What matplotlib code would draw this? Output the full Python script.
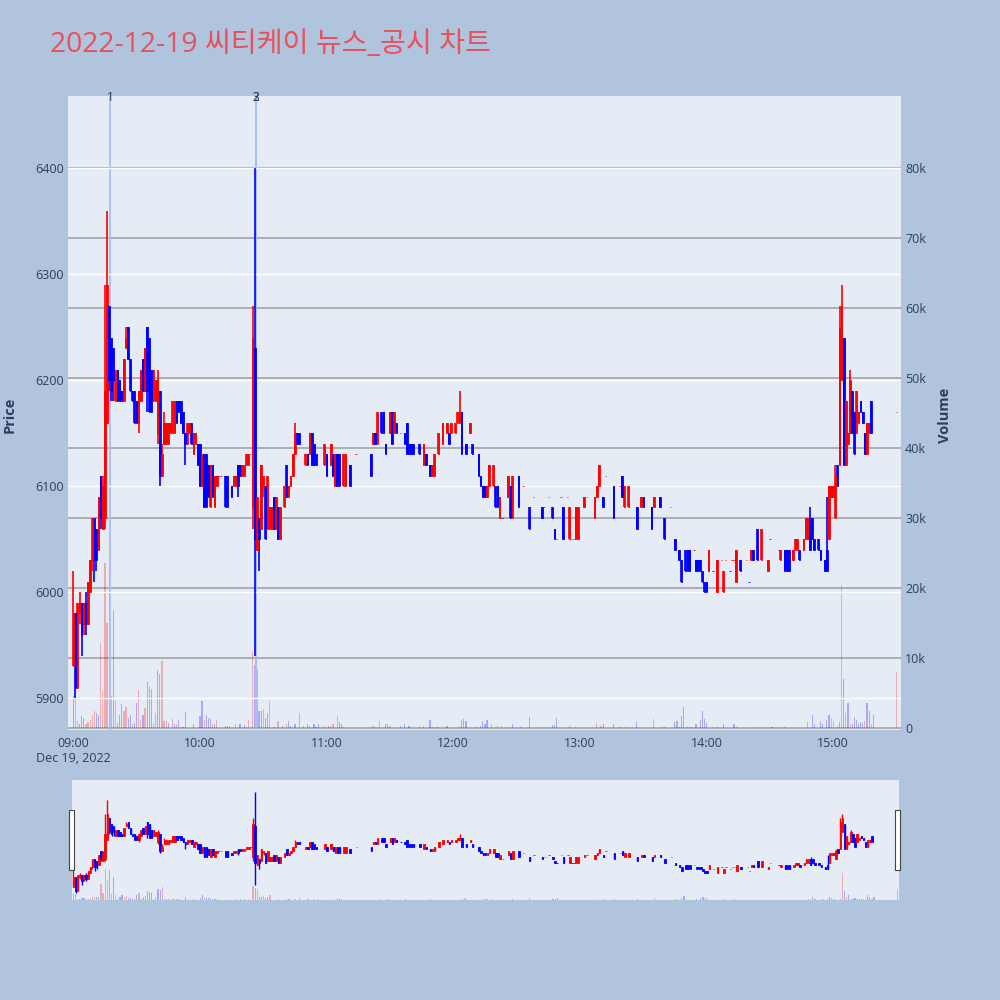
import numpy as np
import matplotlib
matplotlib.use("Agg")
import matplotlib.pyplot as plt
from matplotlib.patches import Rectangle
import matplotlib.transforms as mtransforms

plt.rcParams['font.family'] = ['Open Sans', 'Noto Sans CJK KR', 'DejaVu Sans']

title = "2022-12-19 씨티케이 뉴스_공시 차트"

# 1-minute candles, minutes after 09:00
minutes = [
    0, 1, 2, 3, 4, 5, 6, 7, 8, 9, 10, 11, 12, 13, 14, 15, 16, 17, 18, 19,
    20, 21, 22, 23, 24, 25, 26, 27, 28, 29, 30, 31, 32, 33, 34, 35, 36, 37, 38, 39,
    40, 41, 42, 43, 44, 45, 46, 47, 48, 49, 50, 51, 52, 53, 54, 55, 56, 57, 58, 59,
    60, 61, 62, 63, 64, 65, 66, 67, 68, 69, 70, 72, 73, 75, 76, 77, 78, 79, 80, 81,
    82, 83, 84, 85, 86, 87, 88, 89, 90, 91, 92, 93, 94, 95, 96, 97, 98, 100, 101, 102,
    103, 104, 105, 106, 107, 110, 111, 112, 113, 114, 115, 119, 120, 122, 123, 124, 125, 126, 128, 129,
    131, 134, 141, 142, 143, 144, 146, 147, 148, 150, 151, 152, 153, 155, 157, 158, 159, 160, 161, 164,
    166, 167, 169, 170, 171, 173, 175, 177, 178, 179, 181, 182, 183, 184, 186, 188, 189, 192, 193, 194,
    195, 196, 197, 199, 200, 201, 202, 203, 206, 207, 208, 211, 213, 216, 218, 222, 223, 225, 227, 228,
    229, 231, 232, 234, 235, 236, 237, 238, 239, 242, 243, 247, 248, 249, 251, 252, 256, 259, 260, 261,
    263, 267, 269, 270, 274, 275, 278, 280, 283, 285, 287, 288, 290, 291, 292, 294, 295, 296, 297, 298,
    299, 300, 301, 303, 305, 307, 308, 309, 311, 312, 313, 314, 316, 319, 320, 321, 322, 324, 326, 329,
    330, 334, 335, 337, 338, 339, 341, 342, 343, 344, 346, 347, 348, 349, 350, 351, 353, 354, 356, 357,
    358, 359, 360, 361, 362, 363, 364, 365, 366, 367, 368, 369, 370, 371, 372, 373, 374, 375, 376, 377,
    378, 390,
]
opens = [
    5930, 5980, 5910, 5980, 5990, 5970, 5990, 5970, 6000, 6030, 6070, 6060, 6040, 6110, 6060, 6070, 6160, 6270, 6240, 6230,
    6180, 6210, 6200, 6190, 6180, 6230, 6250, 6220, 6190, 6190, 6180, 6160, 6180, 6220, 6190, 6250, 6240, 6210, 6180, 6180,
    6150, 6190, 6110, 6140, 6140, 6140, 6150, 6150, 6150, 6180, 6180, 6180, 6170, 6150, 6140, 6150, 6160, 6130, 6140, 6140,
    6140, 6100, 6130, 6130, 6120, 6080, 6120, 6080, 6100, 6110, 6110, 6110, 6110, 6100, 6100, 6100, 6120, 6120, 6110, 6110,
    6120, 6120, 6130, 6080, 6230, 6040, 6070, 6060, 6100, 6100, 6060, 6060, 6060, 6090, 6060, 6080, 6050, 6080, 6120, 6090,
    6100, 6110, 6130, 6150, 6150, 6120, 6130, 6130, 6150, 6140, 6130, 6120, 6130, 6120, 6130, 6100, 6130, 6130, 6100, 6100,
    6120, 6130, 6130, 6140, 6150, 6140, 6170, 6170, 6140, 6150, 6170, 6150, 6160, 6150, 6150, 6160, 6140, 6140, 6140, 6140,
    6120, 6130, 6120, 6110, 6110, 6130, 6140, 6150, 6150, 6150, 6150, 6160, 6160, 6170, 6140, 6150, 6140, 6130, 6110, 6100,
    6100, 6090, 6100, 6100, 6100, 6100, 6070, 6070, 6090, 6100, 6070, 6110, 6100, 6080, 6090, 6080, 6080, 6090, 6080, 6060,
    6050, 6090, 6080, 6090, 6050, 6050, 6050, 6050, 6050, 6080, 6090, 6070, 6090, 6100, 6090, 6110, 6100, 6100, 6110, 6080,
    6080, 6080, 6080, 6090, 6080, 6080, 6090, 6070, 6080, 6050, 6040, 6030, 6040, 6040, 6040, 6040, 6030, 6030, 6030, 6020,
    6010, 6010, 6020, 6020, 6000, 6030, 6000, 6030, 6020, 6030, 6030, 6010, 6030, 6030, 6010, 6030, 6040, 6060, 6030, 6020,
    6050, 6040, 6030, 6040, 6040, 6040, 6030, 6040, 6040, 6040, 6040, 6050, 6050, 6070, 6070, 6050, 6050, 6040, 6030, 6040,
    6050, 6090, 6090, 6070, 6120, 6120, 6200, 6240, 6120, 6140, 6150, 6190, 6170, 6150, 6160, 6180, 6170, 6150, 6130, 6150,
    6180, 6170,
]
highs = [
    6020, 5980, 5990, 6000, 5990, 5990, 6000, 6010, 6030, 6070, 6070, 6060, 6090, 6110, 6110, 6290, 6360, 6270, 6240, 6230,
    6210, 6210, 6200, 6190, 6220, 6250, 6250, 6220, 6190, 6190, 6180, 6190, 6210, 6220, 6230, 6250, 6240, 6210, 6210, 6200,
    6210, 6190, 6140, 6170, 6160, 6160, 6160, 6180, 6180, 6180, 6180, 6180, 6170, 6150, 6160, 6160, 6160, 6150, 6150, 6140,
    6140, 6130, 6130, 6130, 6120, 6120, 6120, 6110, 6110, 6110, 6110, 6110, 6110, 6100, 6110, 6110, 6120, 6120, 6120, 6120,
    6130, 6130, 6130, 6270, 6400, 6090, 6070, 6120, 6110, 6100, 6110, 6080, 6080, 6090, 6090, 6080, 6080, 6100, 6120, 6100,
    6110, 6130, 6160, 6150, 6150, 6130, 6130, 6150, 6150, 6140, 6130, 6140, 6130, 6140, 6130, 6130, 6130, 6130, 6130, 6130,
    6120, 6130, 6130, 6150, 6150, 6170, 6170, 6170, 6140, 6170, 6170, 6170, 6160, 6150, 6150, 6160, 6140, 6140, 6140, 6140,
    6140, 6130, 6120, 6120, 6130, 6150, 6160, 6160, 6150, 6160, 6160, 6170, 6190, 6170, 6140, 6160, 6140, 6130, 6110, 6100,
    6100, 6100, 6120, 6120, 6100, 6100, 6090, 6070, 6110, 6100, 6110, 6110, 6100, 6080, 6090, 6080, 6080, 6090, 6080, 6060,
    6050, 6090, 6080, 6090, 6080, 6050, 6050, 6080, 6080, 6090, 6090, 6090, 6100, 6120, 6090, 6110, 6100, 6100, 6110, 6100,
    6100, 6080, 6090, 6090, 6080, 6090, 6090, 6070, 6080, 6050, 6040, 6030, 6040, 6040, 6040, 6040, 6030, 6030, 6030, 6020,
    6010, 6010, 6040, 6020, 6030, 6030, 6020, 6030, 6020, 6030, 6030, 6040, 6030, 6030, 6010, 6040, 6040, 6060, 6060, 6030,
    6050, 6040, 6040, 6040, 6040, 6040, 6040, 6050, 6050, 6040, 6050, 6070, 6070, 6080, 6070, 6050, 6050, 6040, 6030, 6090,
    6100, 6100, 6100, 6120, 6120, 6270, 6290, 6240, 6180, 6150, 6210, 6190, 6170, 6190, 6170, 6180, 6170, 6150, 6160, 6160,
    6180, 6170,
]
lows = [
    5930, 5900, 5910, 5970, 5940, 5960, 5960, 5970, 6000, 6020, 6010, 6020, 6040, 6060, 6060, 6060, 6160, 6190, 6180, 6180,
    6180, 6180, 6180, 6180, 6180, 6230, 6220, 6190, 6180, 6160, 6160, 6150, 6180, 6190, 6190, 6170, 6170, 6170, 6180, 6180,
    6140, 6100, 6110, 6140, 6140, 6140, 6150, 6150, 6150, 6160, 6170, 6160, 6150, 6120, 6140, 6150, 6140, 6130, 6140, 6120,
    6100, 6100, 6080, 6080, 6090, 6080, 6090, 6080, 6100, 6110, 6110, 6080, 6080, 6090, 6100, 6100, 6090, 6110, 6110, 6110,
    6120, 6120, 6130, 6060, 5940, 6040, 6020, 6060, 6090, 6050, 6060, 6060, 6060, 6060, 6060, 6050, 6050, 6080, 6090, 6090,
    6100, 6110, 6130, 6140, 6140, 6120, 6120, 6130, 6120, 6120, 6120, 6120, 6110, 6120, 6110, 6100, 6100, 6100, 6100, 6100,
    6100, 6130, 6110, 6140, 6140, 6140, 6150, 6150, 6130, 6150, 6140, 6150, 6150, 6150, 6140, 6130, 6130, 6130, 6130, 6130,
    6120, 6120, 6110, 6110, 6110, 6130, 6140, 6150, 6140, 6150, 6150, 6160, 6160, 6130, 6130, 6150, 6130, 6110, 6100, 6090,
    6090, 6090, 6100, 6100, 6080, 6080, 6070, 6070, 6090, 6070, 6070, 6080, 6100, 6060, 6090, 6070, 6080, 6090, 6070, 6050,
    6050, 6090, 6050, 6090, 6050, 6050, 6050, 6050, 6050, 6080, 6090, 6070, 6090, 6100, 6080, 6110, 6070, 6100, 6090, 6080,
    6080, 6060, 6080, 6080, 6060, 6080, 6080, 6050, 6080, 6040, 6030, 6010, 6020, 6020, 6020, 6040, 6020, 6020, 6020, 6010,
    6000, 6000, 6020, 6020, 6000, 6030, 6000, 6030, 6020, 6030, 6030, 6010, 6020, 6030, 6010, 6030, 6030, 6030, 6030, 6020,
    6050, 6040, 6030, 6020, 6020, 6020, 6030, 6040, 6040, 6030, 6040, 6050, 6050, 6040, 6050, 6040, 6040, 6030, 6020, 6020,
    6050, 6090, 6090, 6070, 6100, 6120, 6200, 6120, 6120, 6140, 6150, 6150, 6130, 6150, 6160, 6170, 6160, 6130, 6130, 6150,
    6150, 6170,
]
closes = [
    5980, 5910, 5990, 5990, 5960, 5990, 5970, 6010, 6030, 6070, 6030, 6030, 6090, 6070, 6100, 6190, 6290, 6200, 6190, 6200,
    6210, 6180, 6180, 6180, 6220, 6240, 6220, 6190, 6180, 6160, 6160, 6190, 6210, 6190, 6230, 6190, 6170, 6170, 6210, 6200,
    6200, 6110, 6130, 6160, 6160, 6160, 6160, 6180, 6180, 6160, 6170, 6160, 6150, 6140, 6160, 6160, 6140, 6150, 6150, 6120,
    6100, 6130, 6080, 6080, 6090, 6120, 6090, 6110, 6110, 6110, 6110, 6080, 6080, 6090, 6110, 6110, 6100, 6110, 6120, 6120,
    6130, 6130, 6130, 6240, 6050, 6090, 6050, 6120, 6110, 6050, 6110, 6080, 6080, 6060, 6090, 6050, 6080, 6100, 6090, 6100,
    6110, 6130, 6150, 6140, 6140, 6130, 6120, 6150, 6120, 6120, 6120, 6140, 6110, 6140, 6110, 6130, 6100, 6100, 6130, 6130,
    6100, 6130, 6110, 6150, 6140, 6170, 6150, 6150, 6130, 6170, 6140, 6170, 6150, 6150, 6140, 6130, 6130, 6130, 6130, 6130,
    6140, 6120, 6110, 6120, 6130, 6150, 6160, 6160, 6140, 6160, 6160, 6170, 6170, 6130, 6130, 6160, 6130, 6110, 6100, 6090,
    6090, 6100, 6120, 6120, 6080, 6080, 6090, 6070, 6110, 6070, 6110, 6080, 6100, 6060, 6090, 6070, 6080, 6090, 6070, 6050,
    6050, 6090, 6050, 6090, 6080, 6050, 6050, 6080, 6080, 6090, 6090, 6090, 6100, 6120, 6080, 6110, 6070, 6100, 6090, 6100,
    6100, 6060, 6090, 6080, 6060, 6090, 6080, 6050, 6080, 6040, 6030, 6010, 6020, 6020, 6020, 6040, 6020, 6020, 6020, 6010,
    6000, 6000, 6040, 6020, 6030, 6030, 6020, 6030, 6020, 6030, 6030, 6040, 6020, 6030, 6010, 6040, 6030, 6030, 6060, 6030,
    6050, 6040, 6040, 6020, 6020, 6020, 6040, 6050, 6050, 6030, 6050, 6070, 6070, 6040, 6050, 6040, 6040, 6030, 6020, 6020,
    6100, 6100, 6100, 6110, 6100, 6250, 6270, 6120, 6180, 6150, 6200, 6150, 6130, 6190, 6170, 6170, 6160, 6130, 6160, 6160,
    6150, 6170,
]

# volume bars: minute, shares, candle colour (r = up, b = down)
vol_minutes = [
    0, 1, 2, 3, 4, 5, 6, 7, 8, 9, 10, 11, 12, 13, 14, 15, 16, 17, 18, 19,
    20, 21, 22, 23, 24, 25, 26, 27, 28, 29, 30, 31, 32, 33, 34, 35, 36, 37, 38, 39,
    40, 41, 42, 43, 44, 45, 47, 48, 49, 50, 52, 53, 57, 60, 61, 62, 63, 64, 65, 66,
    67, 68, 72, 73, 74, 77, 79, 81, 82, 83, 85, 86, 87, 88, 89, 90, 91, 92, 93, 95,
    97, 99, 101, 102, 103, 105, 107, 109, 111, 112, 114, 115, 116, 118, 119, 121, 122, 123, 125, 126,
    127, 128, 142, 143, 145, 148, 149, 150, 155, 157, 159, 164, 166, 169, 170, 172, 173, 177, 183, 184,
    185, 186, 191, 193, 194, 195, 196, 198, 201, 203, 206, 208, 212, 216, 222, 224, 227, 228, 229, 235,
    238, 248, 250, 251, 256, 259, 261, 267, 275, 279, 280, 285, 286, 287, 288, 289, 291, 292, 293, 295,
    297, 298, 299, 300, 303, 305, 308, 313, 314, 323, 328, 331, 334, 337, 348, 350, 351, 354, 355, 357,
    358, 359, 360, 362, 363, 364, 365, 366, 367, 368, 369, 370, 371, 372, 373, 374, 375, 376, 377, 378,
    379, 390,
]
vol_values = [
    4600, 4300, 1000, 500, 1700, 1400, 500, 800, 1200, 1900, 2400, 2200, 1900, 12100, 5300, 23500, 15000, 22300, 4600, 16900,
    3800, 700, 1900, 3400, 2400, 3000, 1400, 1800, 600, 700, 3600, 5400, 1100, 1900, 2900, 6500, 5900, 5500, 700, 2200,
    8300, 7700, 9500, 1000, 1000, 700, 1300, 600, 600, 1100, 200, 2300, 600, 1700, 3800, 1200, 1800, 1400, 1300, 500,
    500, 1100, 300, 300, 300, 600, 500, 400, 200, 1100, 10800, 9000, 8400, 2400, 2400, 2700, 1400, 2200, 3900, 200,
    1000, 300, 600, 1000, 300, 600, 2200, 300, 500, 300, 500, 200, 500, 200, 300, 300, 300, 500, 1700, 800,
    500, 200, 300, 150, 1000, 600, 600, 250, 300, 500, 250, 150, 300, 1100, 150, 150, 150, 300, 300, 1100,
    1300, 1000, 150, 300, 1000, 600, 1100, 500, 300, 250, 100, 600, 150, 1500, 100, 150, 400, 400, 1400, 300,
    200, 700, 250, 500, 500, 200, 200, 800, 1300, 200, 200, 800, 1000, 200, 1700, 3000, 200, 200, 200, 500,
    1200, 2400, 1300, 700, 200, 200, 500, 500, 200, 200, 150, 150, 150, 150, 900, 1900, 500, 1000, 500, 1100,
    1900, 1400, 1000, 300, 800, 20400, 7000, 2200, 3500, 500, 600, 1600, 1100, 600, 800, 700, 1000, 3500, 2400, 500,
    1900, 8000,
]
vol_colors = [
    'b', 'r', 'r', 'b', 'b', 'b', 'r', 'r', 'r', 'r', 'r', 'b', 'b', 'r', 'r', 'r', 'r', 'b', 'r', 'b',
    'r', 'b', 'b', 'b', 'r', 'r', 'b', 'b', 'r', 'b', 'b', 'r', 'r', 'b', 'r', 'b', 'b', 'b', 'r', 'r',
    'b', 'b', 'r', 'r', 'r', 'b', 'r', 'b', 'r', 'b', 'b', 'b', 'b', 'b', 'b', 'r', 'b', 'b', 'b', 'r',
    'b', 'r', 'b', 'b', 'b', 'r', 'b', 'b', 'r', 'r', 'r', 'b', 'r', 'b', 'b', 'r', 'b', 'b', 'r', 'b',
    'r', 'b', 'r', 'b', 'b', 'b', 'r', 'b', 'b', 'b', 'b', 'b', 'b', 'b', 'r', 'b', 'r', 'r', 'r', 'b',
    'b', 'b', 'r', 'r', 'r', 'b', 'b', 'r', 'b', 'b', 'b', 'b', 'r', 'b', 'b', 'r', 'r', 'b', 'r', 'b',
    'b', 'b', 'b', 'b', 'b', 'b', 'b', 'r', 'b', 'r', 'r', 'b', 'b', 'b', 'b', 'b', 'b', 'b', 'b', 'b',
    'b', 'r', 'r', 'b', 'b', 'r', 'r', 'b', 'r', 'b', 'b', 'b', 'b', 'b', 'b', 'b', 'b', 'b', 'b', 'b',
    'b', 'b', 'b', 'b', 'r', 'r', 'b', 'b', 'b', 'r', 'b', 'b', 'b', 'b', 'r', 'b', 'b', 'b', 'b', 'b',
    'b', 'r', 'r', 'r', 'b', 'r', 'b', 'r', 'b', 'r', 'b', 'b', 'b', 'b', 'b', 'b', 'r', 'b', 'b', 'r',
    'b', 'r',
]

# news / disclosure markers
news_minutes = [17.4, 86.5, 86.6]
news_labels = ['1', '2', '3']

tick_minutes = [0, 60, 120, 180, 240, 300, 360]
tick_labels = ['09:00\nDec 19, 2022', '10:00', '11:00', '12:00', '13:00', '14:00', '15:00']

price_ticks = [5900, 6000, 6100, 6200, 6300, 6400]
vol_ticks = [0, 10000, 20000, 30000, 40000, 50000, 60000, 70000, 80000]
vol_tick_labels = ['0', '10k', '20k', '30k', '40k', '50k', '60k', '70k', '80k']

UP = '#FF0000'
DOWN = '#0000FF'
TXT = '#2a3f5f'

# candle direction (doji follows the previous close like plotly)
o = np.array(opens); h = np.array(highs); l = np.array(lows); c = np.array(closes)
up = []
prev_c, prev_up = None, True
for oo, cc in zip(o, c):
    if cc > oo:
        u = True
    elif cc < oo:
        u = False
    elif prev_c is None or cc > prev_c:
        u = True
    elif cc < prev_c:
        u = False
    else:
        u = prev_up
    up.append(u)
    prev_c, prev_up = cc, u
cols = [UP if u else DOWN for u in up]
vcols = [(1, 0, 0, 0.28) if v == 'r' else (0, 0, 1, 0.28) for v in vol_colors]


def draw(ax_v, ax_p, wick_lw, body_w):
    ax_v.bar(vol_minutes, vol_values, width=0.55, color=vcols, linewidth=0, zorder=2)
    ax_p.vlines(minutes, l, h, colors=cols, lw=wick_lw, zorder=3)
    ax_p.bar(minutes, np.abs(c - o), bottom=np.minimum(o, c), width=body_w,
             color=cols, edgecolor=cols, linewidth=0.6, zorder=4)


fig = plt.figure(figsize=(10, 10), dpi=100, facecolor='#B0C4DE')

# main chart
ax = fig.add_axes([0.068, 0.27, 0.833, 0.634], facecolor='#E5ECF6')
axp = ax.twinx()
ax.yaxis.tick_right()
axp.yaxis.tick_left()
draw(ax, axp, 1.2, 0.7)
ax.set_xlim(-2.5, 392.1)
ax.set_ylim(-286, 90286)
axp.set_ylim(5870, 6468)

ax.set_yticks(vol_ticks)
ax.set_yticklabels(vol_tick_labels)
axp.set_yticks(price_ticks)
ax.set_xticks(tick_minutes)
ax.set_xticklabels(tick_labels)
ax.set_axisbelow(True)
ax.grid(axis='y', color='#A3A3A3', lw=1.2)
axp.grid(axis='y', color='white', lw=1.0, zorder=0)
for a in (ax, axp):
    for s in a.spines.values():
        s.set_visible(False)
    a.tick_params(length=0, labelsize=9, colors=TXT)
ax.tick_params(axis='y', pad=3)
axp.tick_params(axis='y', pad=3)
ax.tick_params(axis='x', pad=5)

trans = mtransforms.blended_transform_factory(axp.transData, axp.transAxes)
for m, lab in zip(news_minutes, news_labels):
    axp.axvline(m, color='#A9BDF2', lw=1.3, zorder=1)
    axp.text(m, 0.998, lab, transform=trans, ha='center', va='center',
             fontsize=8.5, color=TXT)

# range slider
axs = fig.add_axes([0.072, 0.10, 0.827, 0.12], facecolor='#E5ECF6')
axsp = axs.twinx()
draw(axs, axsp, 1.0, 0.7)
axs.set_xlim(-0.7, 390.8)
axs.set_ylim(0, 90000)
axsp.set_ylim(5867, 6457)
for a in (axs, axsp):
    a.set_xticks([])
    a.set_yticks([])
    for s in a.spines.values():
        s.set_visible(False)
for hx in (0.069, 0.895):
    fig.add_artist(Rectangle((hx, 0.130), 0.005, 0.060, transform=fig.transFigure,
                             facecolor='white', edgecolor='#444444', lw=0.8))

fig.text(0.05, 0.948, title, color='#E8505B', fontsize=20.3, va='baseline', ha='left')
fig.text(0.010, 0.585, 'Price', rotation=90, ha='center', va='center',
         fontsize=10.5, fontweight='bold', color=TXT)
fig.text(0.945, 0.585, 'Volume', rotation=90, ha='center', va='center',
         fontsize=10.5, fontweight='bold', color=TXT)

fig.savefig('out.png', dpi=100, facecolor=fig.get_facecolor())
